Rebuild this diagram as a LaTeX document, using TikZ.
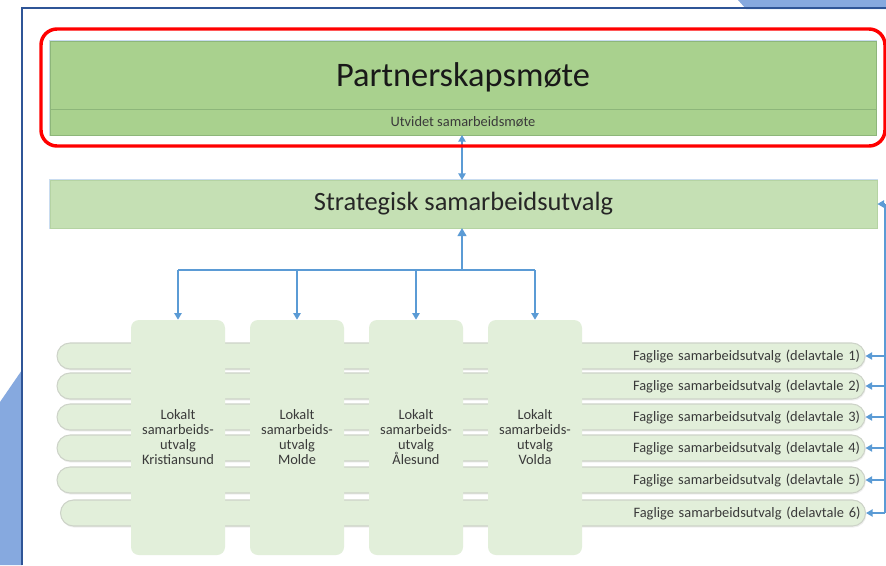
\documentclass[tikz,border=0pt]{standalone}
\usepackage{fontspec}
\setmainfont{Carlito}
\usetikzlibrary{arrows.meta,shadows}
\definecolor{topgreen}{HTML}{A9D18E}
\definecolor{topedge}{HTML}{8DB67A}
\definecolor{midgreen}{HTML}{C5E0B4}
\definecolor{midedge}{HTML}{B5D3A3}
\definecolor{lightgreen}{HTML}{E2EFDA}
\definecolor{pillborder}{HTML}{CDD3C8}
\definecolor{glow}{HTML}{C9DCF0}
\definecolor{arrowblue}{HTML}{5B9BD5}
\definecolor{frameblue}{HTML}{2F5597}
\definecolor{wedgeblue}{HTML}{86A9DF}
\definecolor{txtgray}{HTML}{3A3A3A}
\definecolor{redline}{HTML}{FF0000}
\begin{document}
\begin{tikzpicture}[x=0.75pt,y=-0.75pt,
  arr/.style={draw=arrowblue, line width=1.1pt, -{Triangle[length=5pt,width=5.5pt]}},
  dblarr/.style={draw=arrowblue, line width=1.1pt, {Triangle[length=5pt,width=5.5pt]}-{Triangle[length=5pt,width=5.5pt]}},
  bigbox/.style={rectangle, draw=topedge, line width=0.6pt, fill=topgreen, inner sep=0pt},
  stratbox/.style={rectangle, draw=midedge, line width=0.6pt, fill=midgreen, inner sep=0pt},
  localbox/.style={rectangle, rounded corners=6pt, fill=lightgreen, minimum width=70.5pt, minimum height=176.25pt, inner sep=0pt, align=center, text=txtgray, font=\fontsize{10.8}{11.25}\selectfont},
  pill/.style={rectangle, rounded corners=9.75pt, fill=lightgreen, draw=pillborder, line width=0.8pt, minimum height=19.5pt, inner ysep=0pt, inner xsep=3.75pt, align=right, text=txtgray, font=\fontsize{10.8}{12}\selectfont, drop shadow={opacity=0.12, shadow xshift=0.6pt, shadow yshift=-1.2pt}},
]
\useasboundingbox (0,0) rectangle (886,565);
\fill[white] (0,0) rectangle (886,565);
% decorative background shapes
\fill[wedgeblue] (738,0) -- (886,0) -- (886,9) -- (746,9) -- cycle;
\fill[wedgeblue] (22,370) -- (0,402) -- (0,565) -- (22,565) -- cycle;
\draw[frameblue, line width=1.5pt] (22,565) -- (22,8) -- (886,8);

% top box with glow
\draw[glow, line width=2.2pt] (50,41) rectangle (876,135);
\node[bigbox, minimum width=619.5pt, minimum height=51pt] (top) at (463,75) {};
\node[bigbox, minimum width=619.5pt, minimum height=19.5pt] (sub) at (463,122) {};
\node[font=\fontsize{25.8}{30}\selectfont, text=black!90] (toptxt) at (463,77) {Partnerskapsmøte};
\node[font=\fontsize{10.8}{12}\selectfont, text=txtgray] (subtxt) at (463,122) {Utvidet samarbeidsmøte};

% strategic box
\draw[glow, line width=2.2pt] (50,180) rectangle (877,228);
\node[stratbox, minimum width=620.25pt, minimum height=36pt] (strat) at (463.5,204) {};
\node[font=\fontsize{19.8}{24}\selectfont, text=black!85] (strattxt) at (463.5,204) {Strategisk samarbeidsutvalg};

% faglige pills
\node[pill, text width=598.5pt] (f1) at (461,356) {Faglige samarbeidsutvalg (delavtale 1)};
\node[pill, text width=598.5pt] (f2) at (461,386) {Faglige samarbeidsutvalg (delavtale 2)};
\node[pill, text width=598.5pt] (f3) at (461,417) {Faglige samarbeidsutvalg (delavtale 3)};
\node[pill, text width=598.5pt] (f4) at (461,448) {Faglige samarbeidsutvalg (delavtale 4)};
\node[pill, text width=598.5pt] (f5) at (461,480) {Faglige samarbeidsutvalg (delavtale 5)};
\node[pill, text width=596.25pt] (f6) at (463,513) {Faglige samarbeidsutvalg (delavtale 6)};

% local boxes
\node[localbox] (l1) at (178,437.5) {Lokalt\\samarbeids-\\utvalg\\Kristiansund};
\node[localbox] (l2) at (297,437.5) {Lokalt\\samarbeids-\\utvalg\\Molde};
\node[localbox] (l3) at (416,437.5) {Lokalt\\samarbeids-\\utvalg\\Ålesund};
\node[localbox] (l4) at (535,437.5) {Lokalt\\samarbeids-\\utvalg\\Volda};

% connectors
\draw[dblarr] (462,135) coordinate (ta) -- (462,180) coordinate (sa);
\coordinate (junc) at (462,270);
\draw[draw=arrowblue, line width=2.2pt, -{Triangle[length=6pt,width=6.5pt]}] (junc) -- (462,228);
\draw[draw=arrowblue, line width=1.1pt] (l1.north |- junc) -- (l4.north |- junc);
\foreach \n in {l1,l2,l3,l4} \draw[arr] (\n.north |- junc) -- (\n.north);

% right side bus
\coordinate (r0) at (885,204);
\coordinate (r6) at (885,513);
\draw[draw=arrowblue, line width=1.1pt] (r0) -- (r6);
\draw[arr] (r0) -- (strat.east);
\foreach \n in {f1,f2,f3,f4,f5,f6} \draw[arr] (r0 |- \n.east) -- (\n.east);

% red highlight
\draw[redline, line width=2.6pt, rounded corners=12pt] (41,29) rectangle (885,146);
\end{tikzpicture}
\end{document}
